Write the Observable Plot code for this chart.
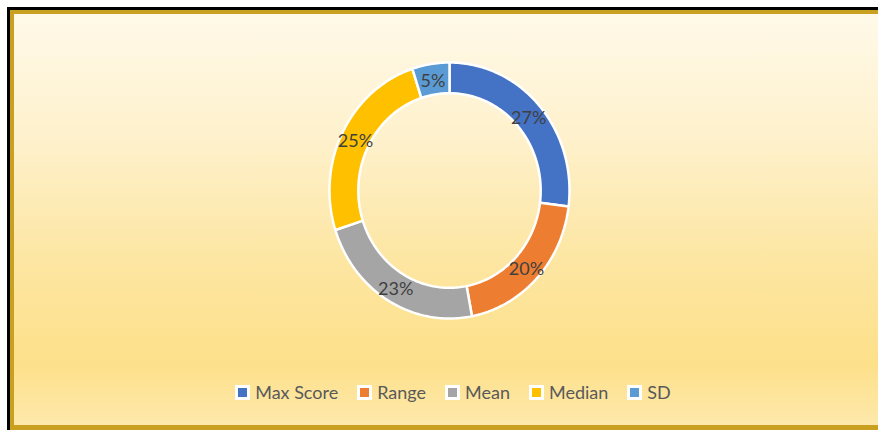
<!DOCTYPE html>
<html>
<head>
<meta charset="utf-8">
<script src="https://cdn.jsdelivr.net/npm/d3@7"></script>
<script src="https://cdn.jsdelivr.net/npm/@observablehq/plot@0.6"></script>
<style>
  html, body { margin: 0; padding: 0; background: #fff; }
  #frame { position: relative; width: 878px; height: 430px; overflow: hidden; font-family: Lato, "Noto Sans", sans-serif; }
  #outer { position: absolute; left: 7px; top: 7px; width: 900px; height: 423px; border-left: 3px solid #000; border-top: 3px solid #000; box-sizing: border-box; }
  #inner { position: absolute; left: 10px; top: 10px; width: 900px; height: 420px; box-sizing: border-box;
    border-left: 4px solid #C9A020; border-top: 4px solid #C9A020; border-bottom: 5px solid #C9A020;
    background: linear-gradient(to bottom, #FFF9E9 0%, #FEF1CC 30%, #FDE6A2 60%, #FDE08A 85%, #FEE9AC 100%); }
  #chart { position: absolute; left: 0; top: 0; }
  #legend { position: absolute; left: 0; width: 878px; top: 381px; display: flex; justify-content: center; gap: 19px; padding-left: 28px; box-sizing: border-box;
    font-size: 18px; color: #595959; }
  .item { display: flex; align-items: center; gap: 5px; }
  .sw { width: 9px; height: 9px; border: 3px solid #fff; }
</style>
</head>
<body>
<div id="frame">
  <div id="outer"></div>
  <div id="inner"></div>
  <div id="chart"></div>
  <div id="legend"></div>
</div>
<script>
const categories = ["Max Score", "Range", "Mean", "Median", "SD"];
const values = [27, 20, 23, 25, 5];
const colors = ["#4472C4", "#ED7D31", "#A5A5A5", "#FFC000", "#5B9BD5"];

const innerRatio = 0.76;
const total = d3.sum(values);

// Build ring polygons from the values (angles clockwise from 12 o'clock)
const rings = [];
const labels = [];
let acc = 0;
categories.forEach((name, i) => {
  const a0 = acc / total * 2 * Math.PI;
  acc += values[i];
  const a1 = acc / total * 2 * Math.PI;
  const n = Math.max(2, Math.ceil((a1 - a0) / (Math.PI / 180)));
  for (let k = 0; k <= n; k++) {
    const a = a0 + (a1 - a0) * k / n;
    rings.push({name, x: Math.sin(a), y: Math.cos(a)});
  }
  for (let k = n; k >= 0; k--) {
    const a = a0 + (a1 - a0) * k / n;
    rings.push({name, x: innerRatio * Math.sin(a), y: innerRatio * Math.cos(a)});
  }
  const am = (a0 + a1) / 2;
  const rm = (1 + innerRatio) / 2;
  labels.push({name, x: rm * Math.sin(am), y: rm * Math.cos(am), text: values[i] + "%"});
});

const chart = Plot.plot({
  width: 878,
  height: 430,
  margin: 0,
  style: {background: "transparent", fontFamily: "Lato, 'Noto Sans', sans-serif"},
  x: {domain: [-1, 1], range: [329, 569], axis: null},
  y: {domain: [-1, 1], range: [318, 62], axis: null},
  color: {domain: categories, range: colors},
  marks: [
    Plot.line(rings, {x: "x", y: "y", z: "name", fill: "name", stroke: "white", strokeWidth: 2.5, curve: "linear-closed", strokeLinejoin: "miter"}),
    Plot.text(labels, {x: "x", y: "y", text: "text", fill: "#404040", fontSize: 18, dy: 2})
  ]
});
document.getElementById("chart").appendChild(chart);

const legend = document.getElementById("legend");
categories.forEach((name, i) => {
  const item = document.createElement("div");
  item.className = "item";
  const sw = document.createElement("div");
  sw.className = "sw";
  sw.style.background = colors[i];
  const t = document.createElement("span");
  t.textContent = name;
  item.appendChild(sw);
  item.appendChild(t);
  legend.appendChild(item);
});
</script>
</body>
</html>
